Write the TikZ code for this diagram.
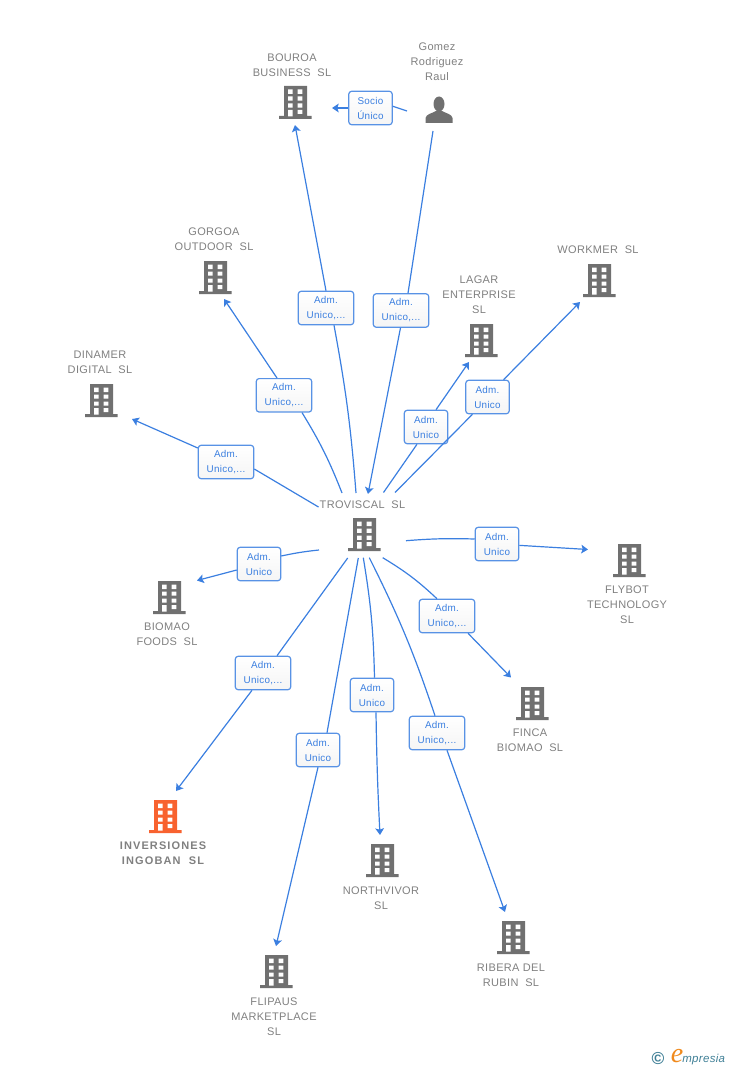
\documentclass[tikz,border=0pt]{standalone}
\usepackage{fontspec}
\setmainfont[LetterSpace=3]{Liberation Sans}
\newfontfamily\logofont{Liberation Serif}
\usetikzlibrary{calc,arrows.meta}
\definecolor{linkblue}{HTML}{3B7FE0}
\definecolor{iconGray}{HTML}{707070}
\definecolor{nameGray}{HTML}{808080}
\definecolor{iconOrange}{HTML}{F8622F}
\definecolor{logoTeal}{HTML}{3F7F96}
\definecolor{logoOrange}{HTML}{F08A1D}
\newcommand{\buildingicon}[1]{
  \fill[#1] (-11.5,-16.5) rectangle (11.5,14) (-16.5,13.5) rectangle (16,16.5);
  \fill[white] (-7.5,-13) rectangle (-3,-8.5) (2,-13) rectangle (6.8,-8.5);
  \fill[white] (-7.5,-6) rectangle (-3,-1.8) (2,-6) rectangle (6.8,-1.8);
  \fill[white] (-7.5,1) rectangle (-3,5.2) (2,1) rectangle (6.8,5.2);
  \fill[white] (-7.5,7.5) rectangle (-3,14) (2,7.5) rectangle (6.8,11.5);
}
\begin{document}
\begin{tikzpicture}[x=0.75pt,y=-0.75pt]
    \tikzstyle{edge}  = [draw=linkblue,line width=0.9pt]
    \tikzstyle{dedge} = [edge,-{Stealth[length=5pt,width=6.5pt,inset=1pt]}]
    \tikzstyle{building}=[
      inner sep=0pt,
      minimum width=24.8pt,
      minimum height=25.5pt,
      path picture={\buildingicon{iconGray}},
    ]
    \tikzstyle{mainbuilding}=[
      inner sep=0pt,
      minimum width=24.8pt,
      minimum height=25.5pt,
      path picture={\buildingicon{iconOrange}},
    ]
    \tikzstyle{person}=[
      inner sep=0pt,
      minimum width=21pt,
      minimum height=21pt,
      path picture={
        \fill[iconGray] (0,-6) ellipse (5.5 and 7.5);
        \fill[iconGray] (-13.5,13) -- (-13.5,8) .. controls (-13,4) and (-6,3) .. (-3,1)
          -- (3,1) .. controls (6,3) and (13,4) .. (13.5,8) -- (13.5,13) -- cycle;
      },
    ]
    \tikzstyle{companyname}=[
      text=nameGray,
      align=center,
      font=\fontsize{8.25pt}{11.25pt}\selectfont,
      inner sep=0pt,
    ]
    \tikzstyle{link}=[
      draw=linkblue!85,
      top color=white,
      bottom color=black!4,
      rounded corners=2pt,
      line width=0.9pt,
      text=linkblue,
      align=center,
      font=\fontsize{7.4pt}{11.25pt}\selectfont,
      inner sep=0pt,
      minimum height=25pt,
    ]
    \tikzstyle{linkshort}=[link, minimum width=32.5pt]
    \tikzstyle{linklong}=[link, minimum width=41.5pt]

    \useasboundingbox (0,0) rectangle (728,1070);

    % companies and the person
    \node[person] (gomez) at (439,110) {};
    \node[building] (bouroa) at (295.5,102.5) {};
    \node[building] (gorgoa) at (215.5,277.5) {};
    \node[building] (dinamer) at (101.5,400.5) {};
    \node[building] (lagar) at (481.5,340.5) {};
    \node[building] (workmer) at (599.5,280.5) {};
    \node[building] (troviscal) at (364.7,534.7) {};
    \node[building] (flybot) at (629.5,560.5) {};
    \node[building] (biomao) at (169.5,597.5) {};
    \node[building] (finca) at (532.5,703.5) {};
    \node[mainbuilding] (inversiones) at (165.5,816.5) {};
    \node[building] (northvivor) at (382.5,860.5) {};
    \node[building] (ribera) at (513.5,937.5) {};
    \node[building] (flipaus) at (276.5,971.5) {};

    % names
    \node[companyname] (gomezName) at (437,62) {Gomez\\Rodriguez\\Raul};
    \node[companyname] (bouroaName) at (292,65.5) {BOUROA\\BUSINESS\ \ SL};
    \node[companyname] (gorgoaName) at (214,239.5) {GORGOA\\OUTDOOR\ \ SL};
    \node[companyname] (dinamerName) at (100,362.5) {DINAMER\\DIGITAL\ \ SL};
    \node[companyname] (lagarName) at (479,295) {LAGAR\\ENTERPRISE\\SL};
    \node[companyname] (workmerName) at (598,250) {WORKMER\ \ SL};
    \node[companyname] (troviscalName) at (362.5,505) {TROVISCAL\ \ SL};
    \node[companyname] (flybotName) at (627,605) {FLYBOT\\TECHNOLOGY\\SL};
    \node[companyname] (biomaoName) at (167,634.5) {BIOMAO\\FOODS\ \ SL};
    \node[companyname] (fincaName) at (530,740.5) {FINCA\\BIOMAO\ \ SL};
    \node[companyname,font=\fontsize{8.25pt}{11.25pt}\selectfont\bfseries\addfontfeature{LetterSpace=10}] (inversionesName) at (163,853.5) {INVERSIONES\\INGOBAN\ \ SL};
    \node[companyname] (northvivorName) at (381,898.5) {NORTHVIVOR\\SL};
    \node[companyname] (riberaName) at (511,975.5) {RIBERA DEL\\RUBIN\ \ SL};
    \node[companyname] (flipausName) at (274,1017) {FLIPAUS\\MARKETPLACE\\SL};

    % free ends of the connectors
    \coordinate (gomezOutA) at (407,111);
    \coordinate (gomezOutB) at (433,131);
    \coordinate (bouroaInA) at (332,108);
    \coordinate (bouroaInB) at (295,125);
    \coordinate (gorgoaIn) at (224,299);
    \coordinate (dinamerIn) at (132,419);
    \coordinate (lagarIn) at (469,362);
    \coordinate (workmerIn) at (580,302);
    \coordinate (flybotIn) at (588,549.5);
    \coordinate (biomaoIn) at (197,580.5);
    \coordinate (fincaIn) at (511,677.5);
    \coordinate (inversionesIn) at (176,791);
    \coordinate (northvivorIn) at (380,835);
    \coordinate (riberaIn) at (505,912);
    \coordinate (flipausIn) at (276,946);
    \coordinate (troviscalIn) at (368,494);
    \coordinate (outBouroa) at (356,493);
    \coordinate (outGorgoa) at (342,493);
    \coordinate (outDinamer) at (318.5,507);
    \coordinate (outLagar) at (383.5,492.5);
    \coordinate (outWorkmer) at (395,492.5);
    \coordinate (outFlybot) at (406,540.7);
    \coordinate (outFinca) at (382.7,557.7);
    \coordinate (outBiomao) at (319,550);
    \coordinate (outInversiones) at (347.7,558);
    \coordinate (outFlipaus) at (358.3,558);
    \coordinate (outNorthvivor) at (363.3,557.7);
    \coordinate (outRibera) at (369.3,557.7);

    % labels on the connectors
    \node[linkshort] (linkSocio) at (370.5,108) {Socio\\Único};
    \node[linklong] (linkBouroa) at (326,308) {Adm.\\Unico,...};
    \node[linklong] (linkGomez) at (401,310.5) {Adm.\\Unico,...};
    \node[linklong] (linkGorgoa) at (284,395.3) {Adm.\\Unico,...};
    \node[linklong] (linkDinamer) at (226,462) {Adm.\\Unico,...};
    \node[linkshort] (linkLagar) at (426,427) {Adm.\\Unico};
    \node[linkshort] (linkWorkmer) at (487.5,397) {Adm.\\Unico};
    \node[linkshort] (linkFlybot) at (497,544) {Adm.\\Unico};
    \node[linklong] (linkFinca) at (447,616) {Adm.\\Unico,...};
    \node[linkshort] (linkBiomao) at (259,564) {Adm.\\Unico};
    \node[linklong] (linkInversiones) at (263,673) {Adm.\\Unico,...};
    \node[linkshort] (linkFlipaus) at (318,750) {Adm.\\Unico};
    \node[linkshort] (linkNorthvivor) at (372,695) {Adm.\\Unico};
    \node[linklong] (linkRibera) at (437,733) {Adm.\\Unico,...};

    % connectors
    \draw[edge] (gomezOutA)--($(linkSocio.north east)+(0,15.5)$);
    \draw[dedge] (linkSocio)--(bouroaInA);
    \draw[edge] (gomezOutB)--($(linkGomez.north)+(7,0)$);
    \draw[dedge] ($(linkGomez.south)+(-0.5,0)$)--(troviscalIn);

    \draw[edge] (outBouroa) to[bend right=3] ($(linkBouroa.south)+(8,0)$);
    \draw[dedge] (linkBouroa.north)--(bouroaInB);
    \draw[edge] (outGorgoa) to[bend right=5] ($(linkGorgoa.south)+(18,0)$);
    \draw[dedge] ($(linkGorgoa.north)+(-7,0)$)--(gorgoaIn);
    \draw[edge] (outDinamer)--($(linkDinamer.east)+(0,7)$);
    \draw[dedge] ($(linkDinamer.west)+(0,-14)$)--(dinamerIn);
    \draw[edge] (outLagar)--($(linkLagar.south)+(-9,0)$);
    \draw[dedge] ($(linkLagar.north)+(10,0)$)--(lagarIn);
    \draw[edge] (outWorkmer)--($(linkWorkmer.south)+(-15,0)$);
    \draw[dedge] ($(linkWorkmer.north)+(16,0)$)--(workmerIn);
    \draw[edge] (outFlybot) to[bend left=3] ($(linkFlybot.west)+(0,-5)$);
    \draw[dedge] (linkFlybot)--(flybotIn);
    \draw[edge] (outFinca) to[bend left=6] ($(linkFinca.north)+(-10,0)$);
    \draw[dedge] ($(linkFinca.south)+(21,0)$)--(fincaIn);
    \draw[edge] (outBiomao) to[bend right=3] ($(linkBiomao.east)+(0,-8)$);
    \draw[dedge] ($(linkBiomao.west)+(0,6)$)--(biomaoIn);
    \draw[edge] (outInversiones)--($(linkInversiones.north)+(14,0)$);
    \draw[dedge] ($(linkInversiones.south)+(-11,0)$)--(inversionesIn);
    \draw[edge] (outFlipaus)--($(linkFlipaus.north)+(9,0)$);
    \draw[dedge] (linkFlipaus.south)--(flipausIn);
    \draw[edge] (outNorthvivor) to[bend left=4] ($(linkNorthvivor.north)+(2.5,0)$);
    \draw[dedge] ($(linkNorthvivor.south)+(4,0)$) to[bend right=1] (northvivorIn);
    \draw[edge] (outRibera) to[bend left=4] ($(linkRibera.north)+(-2,0)$);
    \draw[dedge] ($(linkRibera.south)+(10,0)$)--(riberaIn);

    % logo
    \node[text=logoTeal,inner sep=0pt,font=\fontsize{13pt}{13pt}\selectfont\bfseries] (logoC) at (658,1059) {©};
    \node[text=logoOrange,inner sep=0pt,font=\logofont\fontsize{21pt}{21pt}\selectfont\itshape] (logoE) at (677,1056) {e};
    \node[text=logoTeal,inner sep=0pt,anchor=west,font=\fontsize{8.6pt}{10pt}\selectfont\itshape] (logoText) at (682,1060) {mpresia};
  \end{tikzpicture}
\end{document}
